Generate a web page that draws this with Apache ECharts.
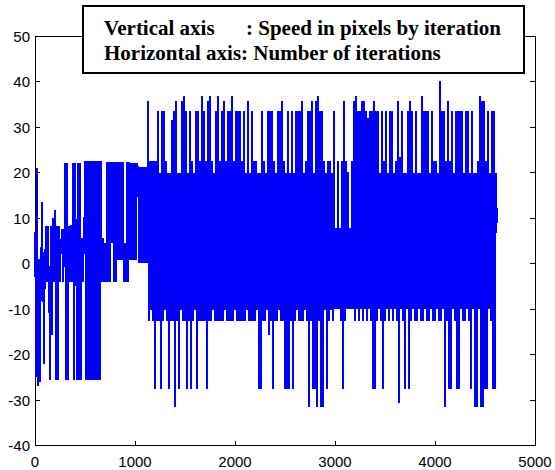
<!DOCTYPE html>
<html>
<head>
<meta charset="utf-8">
<title>Speed in pixels by iteration</title>
<script src="https://cdn.jsdelivr.net/npm/echarts@6/dist/echarts.min.js"></script>
<style>
  html, body { margin: 0; padding: 0; background: #fff; }
  #chart { width: 555px; height: 470px; }
  /* no anti-aliasing on the marks, like the original plot */
  #chart path { shape-rendering: crispEdges; }
</style>
</head>
<body>
<div id="chart"></div>
<script>
// one reading every STEP iterations
const STEP = 10

// iterations 0 - 990 : start-up, low speeds with drops to -25
const speed0 = [
  7, -25, 21, -27, 1, -26, -1, 13.5, -2, -22,
  1, 8.2, -4, 8.2, -4, -25.5, 8.2, -15.7, 10, -4,
  11.7, -25.5, 8.2, -25.5, 8.2, -4, 4.5, 7.6, -4, 0.7,
  22, -25.5, 22, -25.5, 8.2, -4, 8.5, -4, 22, -25.5,
  22, 4.5, -25.5, 22, -25.5, 22, -25.5, 5.6, -4, 4.5,
  22.5, -25.5, 22.5, -25.5, 22.5, -25.5, 22.5, -25.5, 22.5, -25.5,
  22.5, -25.5, 22.5, -25.5, 22.5, -25.5, 22.5, -4, 5.6, -4,
  4.5, -4, 22.4, -4, 22.4, -4, 22.4, 4.5, 22.4, -4,
  22.4, -4, 22.4, 0.7, 22.4, 0.7, 22.4, 0.7, 22.4, -4,
  4.5, -4, 22.4, -4, 22.4, 0.8, 22, 0.8, 22, 0.8
]

// iterations 1000 - 1990
const speed1 = [
  22, 0.8, 22, 21.2, 0.1, 21.2, 0.1, 21.2, 0.1, 21.2,
  0.1, 21.2, 0.1, 35.8, -12.6, 22.6, -10.2, 22.6, -12.6, 22.6,
  -27.6, 22.6, -12.6, 33.6, -12.6, 19.8, -27.6, 33.6, -12.6, 33.6,
  -10.2, 22.6, -12.6, 19.8, -27.6, 19.8, -12.6, 31.5, -12.6, 33.6,
  -31.5, 35.8, -12.6, 19.8, -27.6, 19.8, -10.2, 35.8, -12.6, 36.8,
  -12.6, 33.6, -27.6, 19.8, -12.6, 33.6, -27.6, 22.6, -12.6, 19.8,
  -10.2, 33.6, -27.6, 33.6, -12.6, 22.6, -12.6, 36.8, -12.6, 33.6,
  -12.6, 22.6, -27.6, 35.8, -12.6, 36.8, -12.6, 22.6, -10.2, 19.8,
  -12.6, 33.6, -12.6, 36.8, -12.6, 22.6, -12.6, 33.6, -12.6, 35.8,
  -10.2, 22.6, -12.6, 33.6, -12.6, 33.6, -12.6, 36.8, -12.6, 22.6
]

// iterations 2000 - 2990
const speed2 = [
  -10.2, 33.6, -12.6, 33.6, -12.6, 33.6, -12.6, 22.6, -12.6, 33.6,
  -12.6, 19.8, -10.2, 35.8, -12.6, 19.8, -12.6, 33.6, -12.6, 22.6,
  -12.6, 22.6, -10.2, 19.8, -27.6, 19.8, -27.6, 33.6, -12.6, 22.6,
  -12.6, 19.8, -10.2, 33.6, -15.7, 33.6, -12.6, 33.6, -27.6, 22.6,
  -12.6, 19.8, -12.6, 33.6, -10.2, 33.6, -12.6, 35.8, -12.6, 22.6,
  -27.6, 19.8, -27.6, 33.6, -27.6, 19.8, -12.6, 33.6, -27.6, 19.8,
  -12.6, 33.6, -10.2, 33.6, -12.6, 33.6, -12.6, 35.8, -12.6, 19.8,
  -10.2, 22.6, -12.6, 33.6, -31.5, 33.6, -12.6, 35.8, -27.6, 19.8,
  -27.6, 35.8, -31.5, 36.8, -12.6, 33.6, -31.5, 33.6, -31.5, 22.6,
  -10.2, 19.8, -27.6, 22.6, -12.6, 22.6, -10.2, 19.8, -12.6, 33.6
]

// iterations 3000 - 3990
const speed3 = [
  -10, 7.8, -10, 22.6, -10, 7.8, -12.6, 22.6, -27.6, 35.8,
  -12.6, 22.6, -10, 20, -10, 7.8, -10, 22.6, -10, 35.8,
  -12.6, 36.8, -10, 33.6, -12.6, 33.6, -10, 35.8, -12.6, 35.8,
  -10, 33.6, -12.6, 32, -10, 33.6, -12.6, 33.6, -27.6, 35.8,
  -27.6, 33.6, -12.6, 33.6, -10, 19.8, -12.6, 33.6, -27.6, 22.6,
  -12.6, 33.6, -10, 19.8, -12.6, 33.6, -10, 33.6, -12.6, 19.8,
  -10, 22.6, -12.6, 35.8, -30.6, 23.4, -10, 33.6, -12.6, 19.8,
  -27.6, 19.8, -10, 33.6, -27.6, 35.8, -12.6, 33.6, -10, 19.8,
  -12.6, 33.6, -12.6, 19.8, -10, 19.8, -12.6, 36.8, -12.6, 33.6,
  -10, 33.6, -12.6, 33.6, -12.6, 19.8, -10, 33.6, -12.6, 22.6
]

// iterations 4000 - 4620
const speed4 = [
  -12.6, 22.6, -10, 19.8, -12.6, 40.2, -12.6, 33.6, -10, 33.6,
  -31.5, 22.6, -12.6, 35.8, -27.6, 22.6, -27.6, 33.6, -10, 19.8,
  -12.6, 33.6, -27.6, 33.6, -27.6, 33.6, -10, 33.6, -12.6, 19.8,
  -12.6, 33.6, -10, 33.6, -12.6, 19.8, -27.6, 33.6, -10, 19.8,
  -31.5, 19.8, -31.5, 22.6, -10, 36.8, -31.5, 35.8, -31.5, 35.8,
  -27.6, 22.6, -27.6, 33.6, -10, 19.8, -12.6, 33.6, -27.6, 33.6,
  -27.6, 19.8, 9
]

const xTicks = [0, 1000, 2000, 3000, 4000, 5000]
const yTicks = [-40, -30, -20, -10, 0, 10, 20, 30, 40, 50]

const speed = [].concat(speed0, speed1, speed2, speed3, speed4)
const points = speed.map((v, i) => [i * STEP, v])

const chart = echarts.init(document.getElementById('chart'), null, { renderer: 'svg' })

const labelFont = {
  color: '#000',
  fontSize: 15,
  fontFamily: '"Liberation Sans", Arial, sans-serif'
}
const axisLine = { show: true, onZero: false, lineStyle: { color: '#000', width: 1 } }
const tickIn = { show: true, inside: true, length: 5, lineStyle: { color: '#000' } }

const xRange = {
  type: 'value',
  min: xTicks[0],
  max: xTicks[xTicks.length - 1],
  interval: xTicks[1] - xTicks[0]
}
const yRange = {
  type: 'value',
  min: yTicks[0],
  max: yTicks[yTicks.length - 1],
  interval: yTicks[1] - yTicks[0]
}

const legendFont = 'bold 21px "Liberation Serif", "Times New Roman", serif'

chart.setOption({
  animation: false,
  grid: { left: 35, top: 36, right: 20, bottom: 24.5 },
  xAxis: [
    Object.assign({}, xRange, {
      position: 'bottom',
      axisLine: axisLine,
      axisTick: tickIn,
      splitLine: { show: false },
      axisLabel: Object.assign({ margin: 8, formatter: (v) => String(v) }, labelFont)
    }),
    Object.assign({}, xRange, {
      position: 'top',
      axisLine: axisLine,
      axisTick: tickIn,
      splitLine: { show: false },
      axisLabel: { show: false }
    })
  ],
  yAxis: [
    Object.assign({}, yRange, {
      position: 'left',
      axisLine: axisLine,
      axisTick: tickIn,
      splitLine: { show: false },
      axisLabel: Object.assign({ margin: 5 }, labelFont)
    }),
    Object.assign({}, yRange, {
      position: 'right',
      axisLine: axisLine,
      axisTick: tickIn,
      splitLine: { show: false },
      axisLabel: { show: false }
    })
  ],
  series: [
    {
      type: 'line',
      data: points,
      showSymbol: false,
      symbol: 'none',
      lineStyle: { color: '#0000ff', width: 1.6, join: 'bevel' }
    }
  ],
  // the text box in the top right corner
  graphic: [
    {
      type: 'rect',
      z: 100,
      shape: { x: 83, y: 6, width: 441, height: 67 },
      style: { fill: '#fff', stroke: '#000', lineWidth: 1.5 }
    },
    {
      type: 'text',
      z: 101,
      style: { x: 104, y: 28, text: 'Vertical axis', font: legendFont, fill: '#000', verticalAlign: 'middle' }
    },
    {
      type: 'text',
      z: 101,
      style: { x: 246, y: 28, text: ': Speed in pixels by iteration', font: legendFont, fill: '#000', verticalAlign: 'middle' }
    },
    {
      type: 'text',
      z: 101,
      style: { x: 104, y: 53, text: 'Horizontal axis: Number of iterations', font: legendFont, fill: '#000', verticalAlign: 'middle' }
    }
  ]
})

window.addEventListener('resize', () => chart.resize())
</script>
</body>
</html>
